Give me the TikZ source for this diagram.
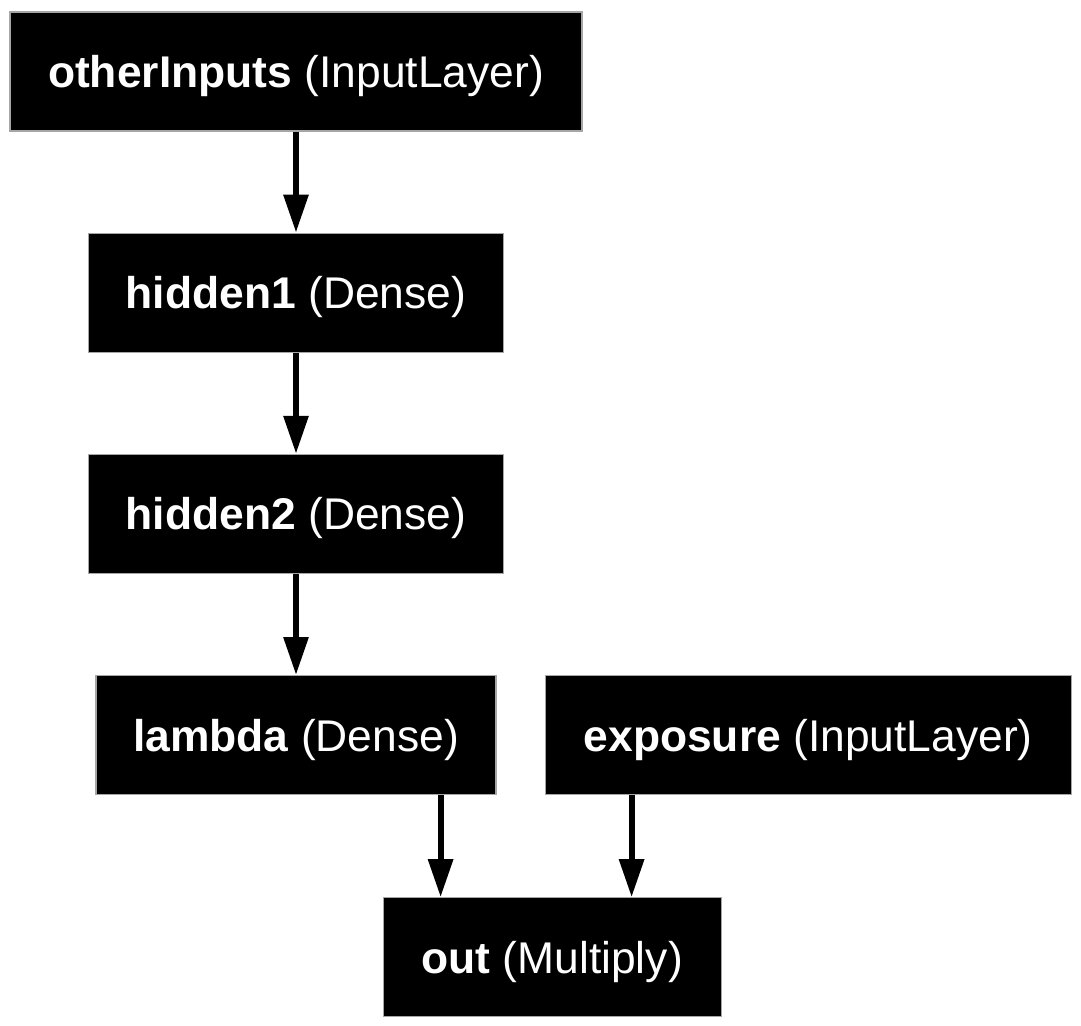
\documentclass[tikz,border=0pt]{standalone}
\usepackage{fontspec}
\setmainfont{Liberation Sans}
\usetikzlibrary{arrows.meta, positioning, calc}

\begin{document}
\begin{tikzpicture}[x=0.5pt, y=-0.5pt, node distance=50.5pt, >={Triangle[length=19pt, width=12pt]},
    layer/.style={rectangle, draw=gray!70, line width=0.6pt, fill=black, text=white, font=\fontsize{22.2}{26}\selectfont, minimum height=59.5pt, inner sep=0pt, text depth=0pt},
    flow/.style={->, line width=3pt}]
    \useasboundingbox (0,0) rectangle (1081,1026);

    \node [layer, minimum width=286pt] (otherinputs) at (296,71.5) {\textbf{otherInputs} (InputLayer)};
    \node [layer, minimum width=207.5pt, below=of otherinputs] (hidden1) {\textbf{hidden1} (Dense)};
    \node [layer, minimum width=207.5pt, below=of hidden1] (hidden2) {\textbf{hidden2} (Dense)};
    \node [layer, minimum width=200pt, below=of hidden2] (lambda) {\textbf{lambda} (Dense)};
    \node [layer, minimum width=263pt, right=24pt of lambda] (exposure) {\textbf{exposure} (InputLayer)};
    \node [layer, minimum width=169pt, below=51pt of $(lambda.south)!0.5!(exposure.south)$] (out) {\textbf{out} (Multiply)};

    \draw[flow] (otherinputs) -- (hidden1);
    \draw[flow] (hidden1) -- (hidden2);
    \draw[flow] (hidden2) -- (lambda);
    \draw[flow] ([xshift=-28pt]lambda.south east) -- ([xshift=-28pt]lambda.south east |- out.north);
    \draw[flow] ([xshift=43.5pt]exposure.south west) -- ([xshift=43.5pt]exposure.south west |- out.north);
\end{tikzpicture}
\end{document}
